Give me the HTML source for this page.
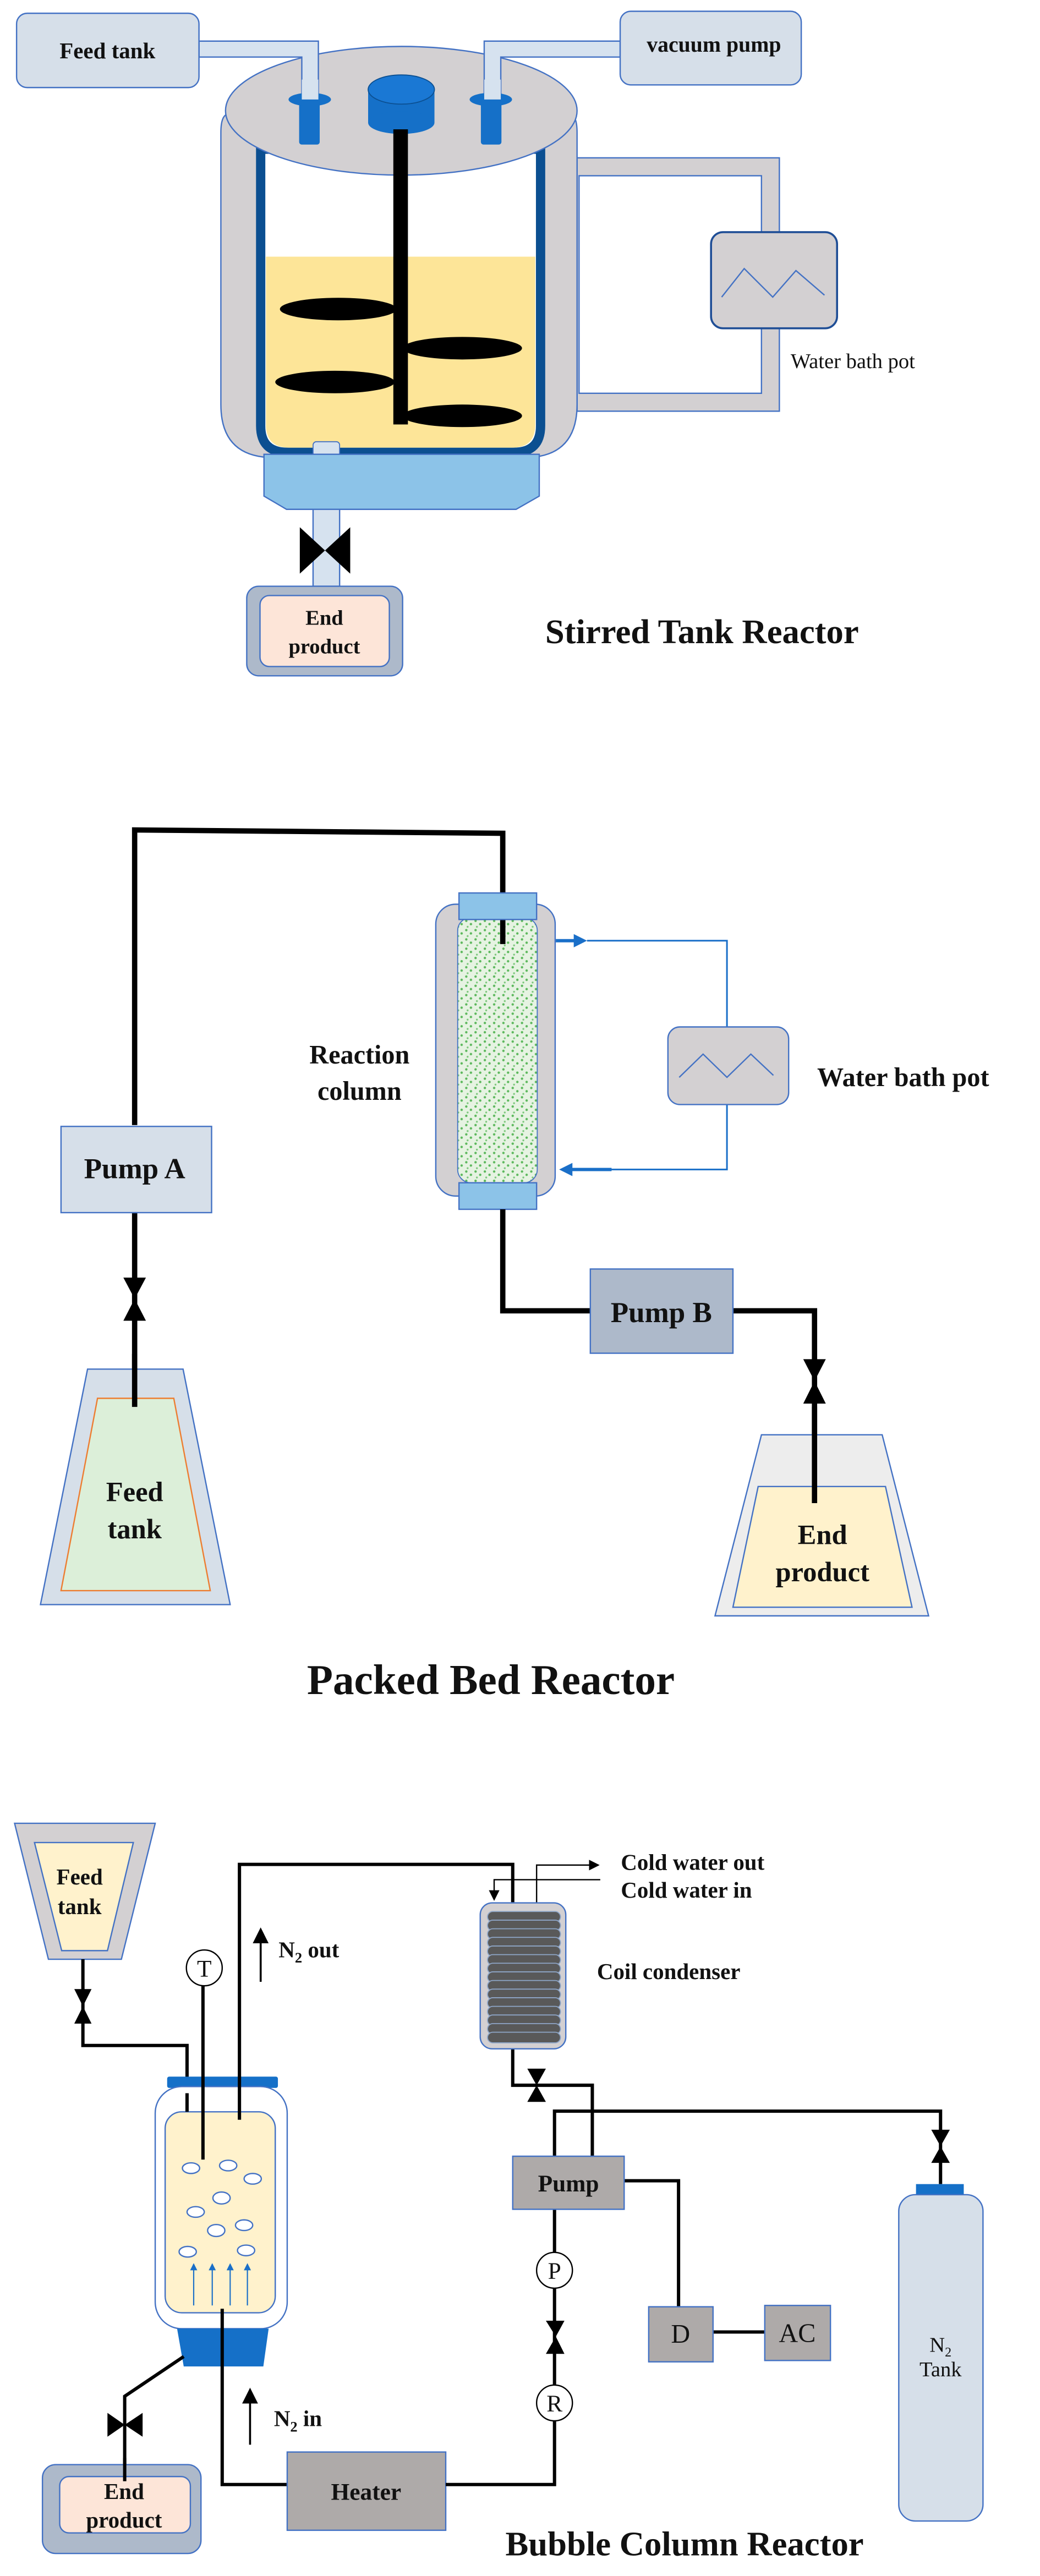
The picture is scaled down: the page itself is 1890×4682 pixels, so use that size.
<!DOCTYPE html>
<html><head><meta charset="utf-8"><style>
html,body{margin:0;padding:0;background:#fff;}
svg{display:block;}
text{font-family:"Liberation Serif",serif;font-weight:bold;fill:#111;}
</style></head><body>
<svg width="1890" height="4682" viewBox="0 0 1890 4682" xmlns="http://www.w3.org/2000/svg">
<defs>
<pattern id="dots" width="14" height="14" patternUnits="userSpaceOnUse">
<rect width="14" height="14" fill="#e6f3e2"/>
<circle cx="3" cy="3" r="1.8" fill="#5cb85c"/><circle cx="10" cy="8" r="1.8" fill="#5cb85c"/><circle cx="5" cy="12" r="1.4" fill="#7cc77c"/>
</pattern>
<marker id="ab" markerWidth="8" markerHeight="8" refX="6" refY="4" orient="auto" markerUnits="strokeWidth"><path d="M0,0 L8,4 L0,8 z" fill="#000"/></marker>
<marker id="abb" markerWidth="4" markerHeight="4" refX="3" refY="2" orient="auto" markerUnits="strokeWidth"><path d="M0,0 L4,2 L0,4 z" fill="#1a6fc8"/></marker>
<marker id="abl" markerWidth="6" markerHeight="6" refX="5" refY="3" orient="auto" markerUnits="strokeWidth"><path d="M0,0 L6,3 L0,6 z" fill="#1a6fc8"/></marker>
</defs>

<!-- SECTION 1 -->
<g transform="translate(0,0) scale(1.2054)">
<rect x="870" y="238" width="305" height="382" fill="#d3d0d2" stroke="#4472c4" stroke-width="2"/>
<rect x="873" y="265" width="275" height="328" fill="#fff" stroke="#4472c4" stroke-width="2"/>
<rect x="1072" y="350" width="190" height="145" rx="18" fill="#d3d0d2" stroke="#1f4e96" stroke-width="3"/>
<polyline points="1088,448 1122,405 1165,448 1200,408 1243,445" fill="none" stroke="#4472c4" stroke-width="2"/>
<text x="1192" y="555" font-size="32" style="font-weight:normal" fill="#333">Water bath pot</text>

<path d="M333,200 Q333,172 345,172 L858,172 Q870,172 870,200 L870,610 Q870,690 790,690 L413,690 Q333,690 333,610 Z" fill="#d3d0d2" stroke="#4472c4" stroke-width="2"/>
<path d="M393,225 L815,225 L815,642 Q815,682 775,682 L433,682 Q393,682 393,642 Z" fill="#fff" stroke="#0b4f91" stroke-width="14"/>
<path d="M401,387 L807,387 L807,640 Q807,675 772,675 L436,675 Q401,675 401,640 Z" fill="#fde598"/>
<ellipse cx="605" cy="167" rx="265" ry="97" fill="#d3d0d2" stroke="#4472c4" stroke-width="2"/>
<polygon points="300,62 480,62 480,150 455,150 455,86 300,86" fill="#d6e2ef" stroke="#4472c4" stroke-width="2"/>
<polygon points="935,62 730,62 730,150 755,150 755,86 935,86" fill="#d6e2ef" stroke="#4472c4" stroke-width="2"/>
<rect x="451" y="150" width="31" height="68" rx="4" fill="#1570c8"/>
<ellipse cx="467" cy="150" rx="32" ry="10" fill="#1570c8"/>
<rect x="455" y="120" width="25" height="30" fill="#d6e2ef"/>
<rect x="725" y="150" width="31" height="68" rx="4" fill="#1570c8"/>
<ellipse cx="740" cy="150" rx="32" ry="10" fill="#1570c8"/>
<rect x="730" y="120" width="25" height="30" fill="#d6e2ef"/>
<rect x="555" y="135" width="100" height="50" fill="#1570c8"/>
<ellipse cx="605" cy="185" rx="50" ry="17" fill="#1570c8"/>
<ellipse cx="605" cy="135" rx="50" ry="22" fill="#1a78d4" stroke="#0b4f91" stroke-width="1.5"/>
<rect x="593" y="195" width="22" height="445" fill="#000"/>
<ellipse cx="510" cy="466" rx="88" ry="17" fill="#000"/>
<ellipse cx="697" cy="525" rx="90" ry="17" fill="#000"/>
<ellipse cx="505" cy="576" rx="90" ry="17" fill="#000"/>
<ellipse cx="697" cy="627" rx="90" ry="17" fill="#000"/>
<rect x="472" y="666" width="40" height="22" rx="5" fill="#d6e2ef" stroke="#4472c4" stroke-width="1.5"/>
<polygon points="398,685 813,685 813,748 778,768 432,768 398,748" fill="#8cc3e8" stroke="#4472c4" stroke-width="2"/>
<rect x="472" y="768" width="40" height="116" fill="#d6e2ef" stroke="#4472c4" stroke-width="2"/>
<polygon points="452,795 490,830 452,865" fill="#000"/>
<polygon points="528,795 490,830 528,865" fill="#000"/>
<rect x="372" y="884" width="235" height="135" rx="18" fill="#adb9ca" stroke="#4472c4" stroke-width="2"/>
<rect x="392" y="898" width="195" height="107" rx="14" fill="#fde5d8" stroke="#4472c4" stroke-width="2"/>
<text x="489" y="942" font-size="32" text-anchor="middle">End</text>
<text x="489" y="985" font-size="32" text-anchor="middle">product</text>
<rect x="25" y="20" width="275" height="112" rx="16" fill="#d6dfe9" stroke="#4472c4" stroke-width="2"/>
<text x="162" y="88" font-size="34" text-anchor="middle">Feed tank</text>
<rect x="935" y="17" width="273" height="111" rx="16" fill="#d6dfe9" stroke="#4472c4" stroke-width="2"/>
<text x="975" y="78" font-size="33" fill="#333">vacuum pump</text>
<text x="822" y="970" font-size="52">Stirred Tank Reactor</text>
</g>

<!-- SECTION 2 -->
<g transform="translate(0,1400) scale(1.2054)">
<polyline points="203,535 203,90 758,95 758,262" fill="none" stroke="#000" stroke-width="8"/>
<rect x="657" y="202" width="180" height="440" rx="30" fill="#d3d0d2" stroke="#4472c4" stroke-width="2"/>
<rect x="690" y="222" width="120" height="400" rx="20" fill="url(#dots)" stroke="#4472c4" stroke-width="1.5"/>
<polyline points="758,95 758,262" fill="none" stroke="#000" stroke-width="8"/>
<rect x="692" y="185" width="117" height="40" fill="#8cc3e8" stroke="#4472c4" stroke-width="2"/>
<rect x="692" y="622" width="117" height="40" fill="#8cc3e8" stroke="#4472c4" stroke-width="2"/>
<line x1="838" y1="257" x2="880" y2="257" stroke="#1a6fc8" stroke-width="5" marker-end="url(#abb)"/>
<polyline points="885,257 1096,257 1096,388" fill="none" stroke="#1a6fc8" stroke-width="2.5"/>
<polyline points="1096,504 1096,602 920,602" fill="none" stroke="#1a6fc8" stroke-width="2.5"/>
<line x1="922" y1="602" x2="848" y2="602" stroke="#1a6fc8" stroke-width="5" marker-end="url(#abb)"/>
<rect x="1007" y="387" width="182" height="117" rx="18" fill="#d3d0d2" stroke="#4472c4" stroke-width="2"/>
<polyline points="1024,463 1060,428 1096,463 1132,428 1166,460" fill="none" stroke="#4472c4" stroke-width="2"/>
<text x="542" y="442" font-size="40" text-anchor="middle">Reaction</text>
<text x="542" y="497" font-size="40" text-anchor="middle">column</text>
<text x="1232" y="476" font-size="40" fill="#333">Water bath pot</text>
<line x1="203" y1="667" x2="203" y2="960" stroke="#000" stroke-width="8"/>
<polygon points="186,765 220,765 203,797" fill="#000"/><polygon points="186,830 220,830 203,797" fill="#000"/>
<polygon points="132,903 276,903 347,1258 61,1258" fill="#d6dfe9" stroke="#4472c4" stroke-width="2"/>
<polygon points="147,947 262,947 317,1237 92,1237" fill="#dcefd9" stroke="#ed7d31" stroke-width="2"/>
<line x1="203" y1="880" x2="203" y2="960" stroke="#000" stroke-width="8"/>
<text x="203" y="1102" font-size="42" text-anchor="middle">Feed</text>
<text x="203" y="1158" font-size="42" text-anchor="middle">tank</text>
<rect x="92" y="537" width="227" height="130" fill="#d6dfe9" stroke="#4472c4" stroke-width="2"/>
<text x="203" y="615" font-size="44" text-anchor="middle">Pump A</text>
<polyline points="758,662 758,815 890,815" fill="none" stroke="#000" stroke-width="8"/>
<polyline points="1105,815 1228,815 1228,1105" fill="none" stroke="#000" stroke-width="8"/>
<rect x="890" y="752" width="215" height="127" fill="#adb9ca" stroke="#4472c4" stroke-width="2"/>
<text x="997" y="832" font-size="44" text-anchor="middle">Pump B</text>
<polygon points="1211,888 1245,888 1228,921" fill="#000"/><polygon points="1211,955 1245,955 1228,921" fill="#000"/>
<polygon points="1148,1002 1330,1002 1400,1275 1078,1275" fill="#ededed" stroke="#4472c4" stroke-width="2"/>
<polygon points="1143,1080 1335,1080 1375,1262 1105,1262" fill="#fff2cc" stroke="#4472c4" stroke-width="2"/>
<line x1="1228" y1="960" x2="1228" y2="1105" stroke="#000" stroke-width="8"/>
<text x="1240" y="1167" font-size="42" text-anchor="middle">End</text>
<text x="1240" y="1223" font-size="42" text-anchor="middle">product</text>
<text x="740" y="1393" font-size="64" text-anchor="middle">Packed Bed Reactor</text>
</g>

<!-- SECTION 3 -->
<g transform="translate(0,2792) scale(1.2054)">
<polygon points="22,433 234,433 183,638 73,638" fill="#d3d0d2" stroke="#4472c4" stroke-width="2"/>
<polygon points="52,462 201,462 162,625 93,625" fill="#fff2cc" stroke="#4472c4" stroke-width="2"/>
<text x="120" y="525" font-size="34" text-anchor="middle">Feed</text>
<text x="120" y="570" font-size="34" text-anchor="middle">tank</text>
<polyline points="125,638 125,768 282,768 282,868" fill="none" stroke="#000" stroke-width="5"/>
<polygon points="112,683 138,683 125,709" fill="#000"/><polygon points="112,735 138,735 125,709" fill="#000"/>
<rect x="252" y="815" width="167" height="17" rx="3" fill="#1570c8"/>
<rect x="234" y="830" width="199" height="365" rx="40" fill="#fff" stroke="#4472c4" stroke-width="2"/>
<rect x="249" y="868" width="166" height="303" rx="25" fill="#fff2cc" stroke="#4472c4" stroke-width="2"/>
<polygon points="267,1195 405,1195 397,1252 277,1252" fill="#1570c8"/>
<polyline points="282,840 282,868" stroke="#000" stroke-width="5"/>
<circle cx="308" cy="651" r="27" fill="#fff" stroke="#000" stroke-width="2"/>
<text x="308" y="664" font-size="36" text-anchor="middle" style="font-weight:normal">T</text>
<line x1="306" y1="678" x2="306" y2="940" stroke="#000" stroke-width="5"/>
<polyline points="361,880 361,495 773,495 773,552" fill="none" stroke="#000" stroke-width="5"/>
<g fill="#fff" stroke="#4472c4" stroke-width="2">
<ellipse cx="288" cy="953" rx="13" ry="8"/><ellipse cx="344" cy="949" rx="13" ry="8"/><ellipse cx="381" cy="969" rx="13" ry="8"/>
<ellipse cx="334" cy="998" rx="13" ry="9"/><ellipse cx="295" cy="1019" rx="13" ry="8"/><ellipse cx="326" cy="1047" rx="13" ry="9"/>
<ellipse cx="368" cy="1039" rx="13" ry="8"/><ellipse cx="283" cy="1079" rx="13" ry="8"/><ellipse cx="371" cy="1077" rx="13" ry="8"/>
</g>
<g stroke="#1a6fc8" stroke-width="1.8" marker-end="url(#abl)">
<line x1="292" y1="1160" x2="292" y2="1098"/><line x1="320" y1="1160" x2="320" y2="1098"/><line x1="347" y1="1160" x2="347" y2="1098"/><line x1="373" y1="1160" x2="373" y2="1098"/>
</g>
<line x1="393" y1="672" x2="393" y2="596" stroke="#000" stroke-width="3" marker-end="url(#ab)"/>
<text x="420" y="635" font-size="34">N<tspan font-size="22" dy="8">2</tspan><tspan dy="-8"> out</tspan></text>
<line x1="377" y1="1370" x2="377" y2="1290" stroke="#000" stroke-width="3" marker-end="url(#ab)"/>
<text x="413" y="1342" font-size="34">N<tspan font-size="22" dy="8">2</tspan><tspan dy="-8"> in</tspan></text>
<polyline points="335,1165 335,1430 433,1430" fill="none" stroke="#000" stroke-width="5"/>
<rect x="433" y="1381" width="239" height="118" fill="#aeaaa9" stroke="#4472c4" stroke-width="2"/>
<text x="552" y="1453" font-size="36" text-anchor="middle">Heater</text>
<polyline points="672,1430 836,1430 836,1334" fill="none" stroke="#000" stroke-width="5"/>
<line x1="836" y1="1280" x2="836" y2="1134" stroke="#000" stroke-width="5"/>
<polygon points="823,1183 851,1183 838,1207" fill="#000"/><polygon points="823,1233 851,1233 838,1207" fill="#000"/>
<line x1="836" y1="1080" x2="836" y2="1015" stroke="#000" stroke-width="5"/>
<circle cx="836" cy="1307" r="27" fill="#fff" stroke="#000" stroke-width="2"/>
<text x="836" y="1320" font-size="36" text-anchor="middle" style="font-weight:normal">R</text>
<circle cx="836" cy="1107" r="27" fill="#fff" stroke="#000" stroke-width="2"/>
<text x="836" y="1120" font-size="36" text-anchor="middle" style="font-weight:normal">P</text>
<polyline points="941,972 1023,972 1023,1162" fill="none" stroke="#000" stroke-width="5"/>
<line x1="1075" y1="1200" x2="1153" y2="1200" stroke="#000" stroke-width="5"/>
<rect x="978" y="1162" width="97" height="83" fill="#aeaaa9" stroke="#4472c4" stroke-width="2"/>
<text x="1026" y="1216" font-size="40" text-anchor="middle" style="font-weight:normal">D</text>
<rect x="1153" y="1160" width="99" height="83" fill="#aeaaa9" stroke="#4472c4" stroke-width="2"/>
<text x="1202" y="1215" font-size="40" text-anchor="middle" style="font-weight:normal">AC</text>
<polyline points="773,773 773,828 893,828 893,935" fill="none" stroke="#000" stroke-width="5"/>
<polygon points="795,803 823,803 809,828" fill="#000"/><polygon points="795,853 823,853 809,828" fill="#000"/>
<polyline points="836,935 836,867 1418,867 1418,977" fill="none" stroke="#000" stroke-width="5"/>
<polygon points="1404,895 1432,895 1418,920" fill="#000"/><polygon points="1404,945 1432,945 1418,920" fill="#000"/>
<rect x="773" y="935" width="168" height="80" fill="#aeaaa9" stroke="#4472c4" stroke-width="2"/>
<text x="857" y="988" font-size="36" text-anchor="middle">Pump</text>
<rect x="1381" y="977" width="72" height="18" fill="#1570c8"/>
<rect x="1355" y="993" width="127" height="492" rx="25" fill="#d6dfe9" stroke="#4472c4" stroke-width="2"/>
<text x="1418" y="1230" font-size="32" text-anchor="middle" style="font-weight:normal">N<tspan font-size="20" dy="7">2</tspan></text>
<text x="1418" y="1267" font-size="32" text-anchor="middle" style="font-weight:normal">Tank</text>
<rect x="724" y="553" width="129" height="220" rx="18" fill="#d3d0d2" stroke="#4472c4" stroke-width="2"/>
<g fill="#595959" stroke="#8ea6c8" stroke-width="1.5">
<rect x="735" y="566" width="110" height="16" rx="8"/><rect x="735" y="579" width="110" height="16" rx="8"/><rect x="735" y="592" width="110" height="16" rx="8"/>
<rect x="735" y="605" width="110" height="16" rx="8"/><rect x="735" y="618" width="110" height="16" rx="8"/><rect x="735" y="631" width="110" height="16" rx="8"/>
<rect x="735" y="644" width="110" height="16" rx="8"/><rect x="735" y="657" width="110" height="16" rx="8"/><rect x="735" y="670" width="110" height="16" rx="8"/>
<rect x="735" y="683" width="110" height="16" rx="8"/><rect x="735" y="696" width="110" height="16" rx="8"/><rect x="735" y="709" width="110" height="16" rx="8"/>
<rect x="735" y="722" width="110" height="16" rx="8"/><rect x="735" y="735" width="110" height="16" rx="8"/><rect x="735" y="748" width="110" height="16" rx="8"/>
</g>
<polyline points="809,552 809,496 900,496" fill="none" stroke="#000" stroke-width="2" marker-end="url(#ab)"/>
<polyline points="905,518 745,518 745,546" fill="none" stroke="#000" stroke-width="2" marker-end="url(#ab)"/>
<text x="936" y="503" font-size="34">Cold water out</text>
<text x="936" y="545" font-size="34">Cold water in</text>
<text x="900" y="668" font-size="34">Coil condenser</text>
<polyline points="277,1237 188,1297 188,1400" fill="none" stroke="#000" stroke-width="5"/>
<polygon points="162,1322 162,1358 188,1340" fill="#000"/><polygon points="215,1322 215,1358 188,1340" fill="#000"/>
<rect x="64" y="1400" width="239" height="134" rx="20" fill="#adb9ca" stroke="#4472c4" stroke-width="2"/>
<rect x="90" y="1418" width="197" height="85" rx="14" fill="#fde5d8" stroke="#4472c4" stroke-width="2"/>
<line x1="188" y1="1390" x2="188" y2="1425" stroke="#000" stroke-width="5"/>
<text x="187" y="1452" font-size="34" text-anchor="middle">End</text>
<text x="187" y="1495" font-size="34" text-anchor="middle">product</text>
<text x="762" y="1537" font-size="52">Bubble Column Reactor</text>
</g>
</svg>
</body></html>
